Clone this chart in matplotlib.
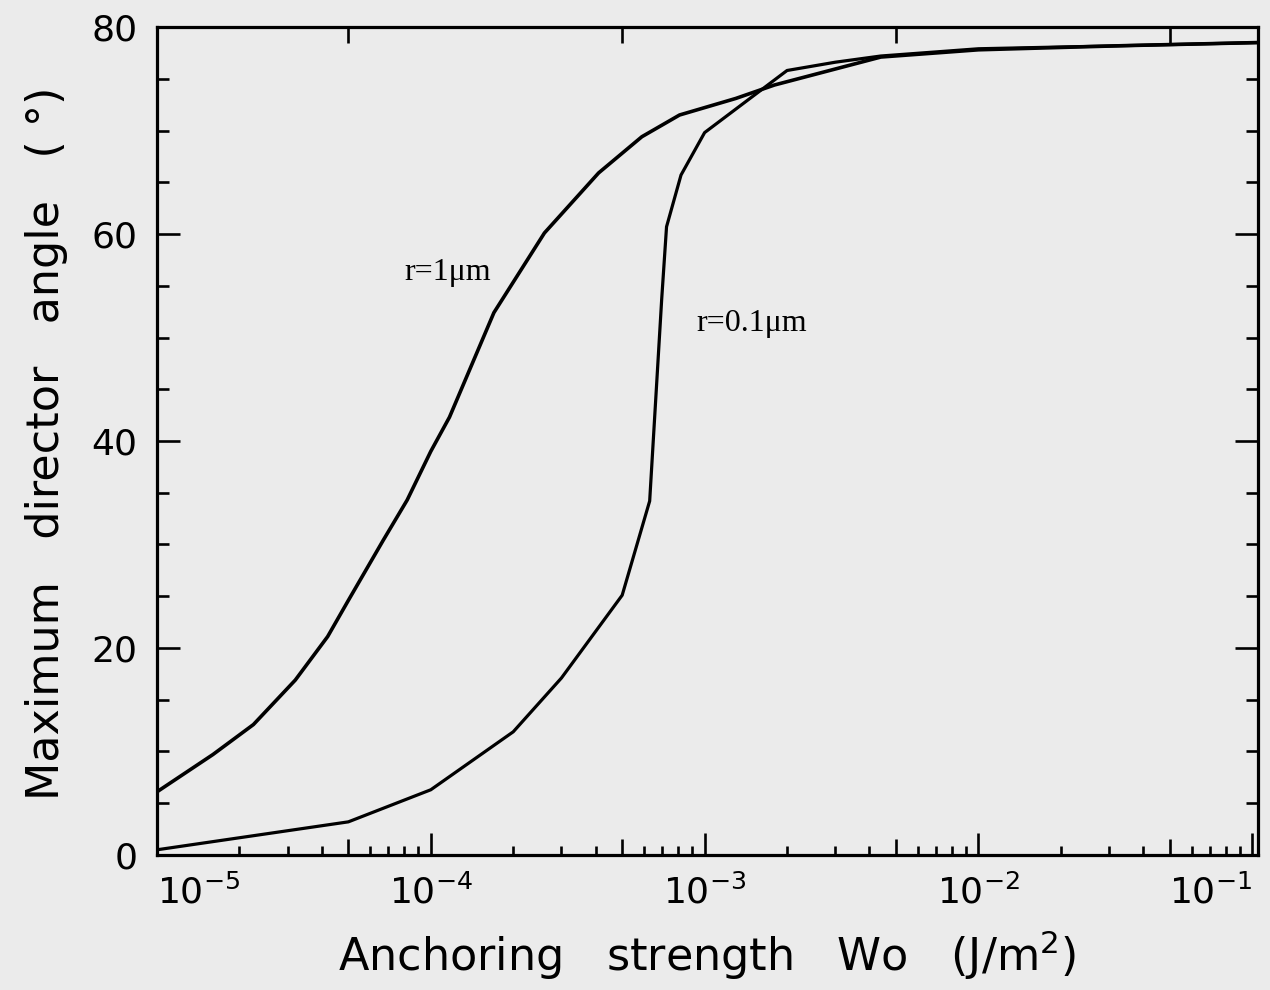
import matplotlib
matplotlib.use("Agg")
import matplotlib.pyplot as plt
from matplotlib.ticker import FixedLocator, NullFormatter

# values
w_r1 = [1e-5, 1.6e-5, 2.25e-5, 3.2e-5, 4.2e-5, 5e-5, 6.7e-5, 8.2e-5, 1e-4,
        1.17e-4, 1.7e-4, 2.6e-4, 4.1e-4, 5.9e-4, 8.1e-4, 1.3e-3, 1.8e-3,
        4.4e-3, 1e-2, 3.4e-2, 0.105]
angle_r1 = [6.1, 9.7, 12.6, 16.9, 21.1, 24.6, 30.4, 34.3, 39.0,
            42.3, 52.4, 60.1, 65.9, 69.4, 71.5, 73.1, 74.4,
            77.1, 77.8, 78.2, 78.5]

w_r01 = [1e-5, 5e-5, 1e-4, 2e-4, 3e-4, 5e-4, 6.3e-4, 6.97e-4, 7.26e-4,
         8.2e-4, 1e-3, 2e-3, 3e-3, 4.4e-3, 1e-2, 3.4e-2, 0.105]
angle_r01 = [0.5, 3.2, 6.3, 11.9, 17.1, 25.1, 34.2, 53.7, 60.7,
             65.7, 69.8, 75.8, 76.6, 77.2, 77.9, 78.2, 78.5]

xticks = [1e-5, 1e-4, 1e-3, 1e-2, 1e-1]
xticklabels = [r'$10^{-5}$', r'$10^{-4}$', r'$10^{-3}$', r'$10^{-2}$', r'$10^{-1}$']
yticks = [0, 20, 40, 60, 80]

bg = '#ebebeb'
plt.rcParams['font.family'] = ['DejaVu Sans']
plt.rcParams['mathtext.fontset'] = 'dejavusans'

fig = plt.figure(figsize=(12.7, 9.9), dpi=100, facecolor=bg)
ax = fig.add_axes([0.1236, 0.1364, 0.867, 0.8363], facecolor=bg)

ax.plot(w_r1, angle_r1, color='black', lw=2.6)
ax.plot(w_r01, angle_r01, color='black', lw=2.3)

ax.set_xscale('log')
ax.set_xlim(1e-5, 0.105)
ax.set_ylim(0, 80)

ax.set_xticks(xticks)
ax.set_xticklabels(xticklabels)
minors = [m * 10.0 ** e for e in range(-5, -1) for m in (2, 3, 4, 6, 7, 8, 9)]
ax.xaxis.set_minor_locator(FixedLocator(minors))
ax.xaxis.set_minor_formatter(NullFormatter())
ax.set_yticks(yticks)
ax.yaxis.set_minor_locator(FixedLocator([v for v in range(0, 81, 5) if v % 20]))

for s in ax.spines.values():
    s.set_linewidth(2.3)

ax.tick_params(which='both', direction='in', top=True, right=True, width=1.9,
               labelsize=26, pad=14)
ax.tick_params(axis='x', which='major', length=16)
ax.tick_params(axis='x', which='minor', length=6.5)
ax.tick_params(axis='y', which='major', length=16.5)
ax.tick_params(axis='y', which='minor', length=8.5)

labs = ax.get_xticklabels()
labs[0].set_horizontalalignment('left')
labs[-1].set_horizontalalignment('right')

# medium ticks at 5 x 10^n
tw = ax.twiny()
tw.set_xscale('log')
tw.set_xlim(ax.get_xlim())
tw.xaxis.set_major_locator(FixedLocator([5e-5, 5e-4, 5e-3, 5e-2]))
tw.xaxis.set_minor_locator(FixedLocator([]))
tw.tick_params(which='both', direction='in', top=True, bottom=True,
               labeltop=False, labelbottom=False, length=11.5, width=1.9)
for s in tw.spines.values():
    s.set_visible(False)

ax.text(8.0e-5, 56.3, 'r=1μm', fontsize=23, family='Liberation Serif',
        ha='left', va='center', zorder=5)
ax.text(9.3e-4, 51.4, 'r=0.1μm', fontsize=23, family='Liberation Serif',
        ha='left', va='center', zorder=5)

fig.text(0.557, 0.035, r'Anchoring   strength   Wo   (J/m$^2$)', fontsize=32,
         ha='center', va='center')
fig.text(0.037, 0.552, 'Maximum   director   angle   ( °)', fontsize=32,
         ha='center', va='center', rotation=90)

fig.savefig('out.png', dpi=100, facecolor=bg)
